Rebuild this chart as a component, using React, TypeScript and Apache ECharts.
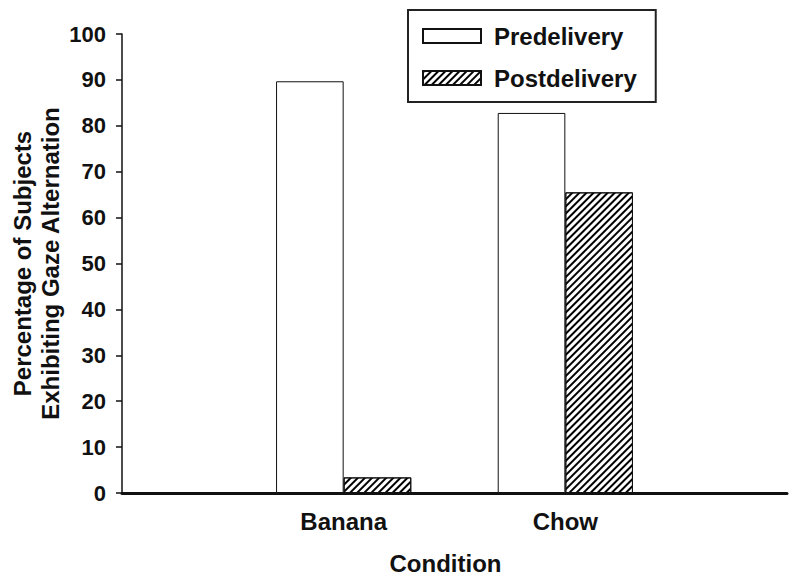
import React, { useEffect, useRef } from "react";
import * as echarts from "echarts";

const categories = ["", "Banana", "Chow", ""];
const predelivery = [null, 89.7, 82.8, null];
const postdelivery = [null, 3.4, 65.5, null];
const yTicks = { min: 0, max: 100, interval: 10 };

const FONT = "Liberation Sans, Arial, sans-serif";

export default function App() {
  const ref = useRef<HTMLDivElement>(null);
  useEffect(() => {
    const chart = echarts.init(ref.current!, null, { renderer: "svg" });
    const hatch = {
      symbol: "rect",
      symbolSize: 1,
      dashArrayX: [1, 0],
      dashArrayY: [2, 3],
      rotation: -Math.PI / 4,
      color: "#000",
      backgroundColor: "#fff",
    };
    chart.setOption({
      animation: false,
      backgroundColor: "#fff",
      grid: { left: 122, right: 13, top: 34, bottom: 87, containLabel: false, outerBoundsMode: "none" },
      legend: {
        orient: "vertical",
        left: 408,
        top: 10,
        padding: [14, 19, 12, 14],
        itemGap: 18,
        itemWidth: 58,
        itemHeight: 14,
        icon: "rect",
        borderColor: "#222",
        borderWidth: 2,
        textStyle: { fontFamily: FONT, fontWeight: "bold", fontSize: 24, color: "#111", padding: [0, 0, 0, 8] },
        data: ["Predelivery", "Postdelivery"],
      },
      xAxis: {
        type: "category",
        data: categories,
        boundaryGap: false,
        name: "Condition",
        nameLocation: "middle",
        nameGap: 58,
        nameMoveOverlap: false,
        nameTextStyle: { fontFamily: FONT, fontWeight: "bold", fontSize: 24, color: "#111", padding: [0, 18, 0, 0] },
        axisLine: { lineStyle: { color: "#111", width: 3 } },
        axisTick: { show: false },
        axisLabel: { fontFamily: FONT, fontWeight: "bold", fontSize: 24, color: "#111", margin: 16 },
        splitLine: { show: false },
      },
      yAxis: {
        type: "value",
        min: yTicks.min,
        max: yTicks.max,
        interval: yTicks.interval,
        name: "Percentage of Subjects\nExhibiting Gaze Alternation",
        nameLocation: "middle",
        nameGap: 58,
        nameMoveOverlap: false,
        nameTextStyle: { fontFamily: FONT, fontWeight: "bold", fontSize: 24, color: "#111", lineHeight: 28 },
        axisLine: { show: true, lineStyle: { color: "#111", width: 1.5 } },
        axisTick: { show: true, length: 6, lineStyle: { color: "#111", width: 1.5 } },
        axisLabel: { fontFamily: FONT, fontWeight: "bold", fontSize: 22, color: "#111", margin: 16 },
        splitLine: { show: false },
      },
      series: [
        {
          name: "Predelivery",
          type: "bar",
          data: predelivery,
          barWidth: "30.5%",
          barGap: "0%",
          itemStyle: { color: "#fff", borderColor: "#111", borderWidth: 1 },
        },
        {
          name: "Postdelivery",
          type: "bar",
          data: postdelivery,
          barWidth: "30.5%",
          barGap: "0%",
          itemStyle: { color: "#fff", borderColor: "#111", borderWidth: 1, decal: hatch },
        },
      ],
    });
    return () => chart.dispose();
  }, []);
  return <div ref={ref} style={{ width: 800, height: 580, position: "absolute", left: 0, top: 0 }} />;
}
